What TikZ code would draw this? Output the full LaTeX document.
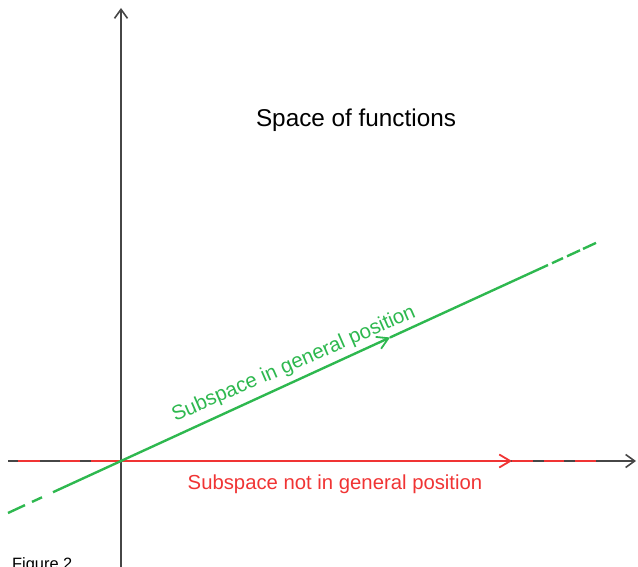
\documentclass[tikz,border=0pt]{standalone}
\usepackage{fontspec}
\setmainfont{Liberation Sans}
\usetikzlibrary{arrows.meta}
\definecolor{axisgray}{RGB}{70,70,70}
\definecolor{subgreen}{RGB}{46,184,79}
\definecolor{subred}{RGB}{240,52,52}
\begin{document}
\begin{tikzpicture}[x=1pt,y=-1pt,
  axisline/.style={draw=axisgray, line width=1.7pt},
  axistip/.style={-{Straight Barb[length=9pt,width=13pt,line width=1.6pt]}},
  greenline/.style={draw=subgreen, line width=2.4pt},
  redline/.style={draw=subred, line width=2.4pt},
  midtip/.style={-{Straight Barb[length=11pt,width=13pt,line width=1.8pt]}},
  lbl/.style={inner sep=0pt}]
\useasboundingbox (0,0) rectangle (638,567);
\clip (0,0) rectangle (638,567);
% coordinates
\coordinate (O) at (121,461);
\coordinate (YB) at (121,567);
\coordinate (YT) at (121,8);
\coordinate (XL) at (8,461);
\coordinate (XR) at (636,461);
% axes
\draw[axisline, axistip] (YB) -- (YT);
\draw[axisline, axistip] (XL) -- (XR);
% red subspace
\coordinate (R1a) at (18,461); \coordinate (R1b) at (40,461);
\coordinate (R2a) at (60,461); \coordinate (R2b) at (80,461);
\coordinate (R3a) at (91,461);
\coordinate (RM) at (512,461);
\coordinate (R3b) at (533,461);
\coordinate (R4a) at (544,461); \coordinate (R4b) at (564,461);
\coordinate (R5a) at (575,461); \coordinate (R5b) at (596,461);
\draw[redline] (R1a) -- (R1b);
\draw[redline] (R2a) -- (R2b);
\draw[redline, midtip] (R3a) -- (RM);
\draw[redline] (RM) -- (R3b);
\draw[redline] (R4a) -- (R4b);
\draw[redline] (R5a) -- (R5b);
% green subspace
\coordinate (G1a) at (8,513.0); \coordinate (G1b) at (25,505.1);
\coordinate (G2a) at (32,501.9); \coordinate (G2b) at (42,497.3);
\coordinate (G3a) at (53,492.2);
\coordinate (GM) at (390,337.5);
\coordinate (G3b) at (548,265.0);
\coordinate (G4a) at (552,263.2); \coordinate (G4b) at (563,258.1);
\coordinate (G5a) at (567,256.3); \coordinate (G5b) at (580,250.3);
\coordinate (G6a) at (583,248.9); \coordinate (G6b) at (596,242.9);
\draw[greenline] (G1a) -- (G1b);
\draw[greenline] (G2a) -- (G2b);
\draw[greenline, midtip] (G3a) -- (GM);
\draw[greenline] (GM) -- (G3b);
\draw[greenline] (G4a) -- (G4b);
\draw[greenline] (G5a) -- (G5b);
\draw[greenline] (G6a) -- (G6b);
% labels
\node[lbl, anchor=base] (title) at (356,127) {\fontsize{24.3}{28}\selectfont Space of functions};
\node[lbl, anchor=base, text=subred] (redlbl) at (335,489) {\fontsize{20.3}{24}\selectfont Subspace not in general position};
\node[lbl, anchor=base, text=subgreen, rotate=23.5] (greenlbl) at (296,369) {\fontsize{20.5}{24}\selectfont Subspace in general position};
\node[lbl, anchor=base west] (fig) at (12,569) {\fontsize{16.4}{20}\selectfont Figure 2};
\end{tikzpicture}
\end{document}
